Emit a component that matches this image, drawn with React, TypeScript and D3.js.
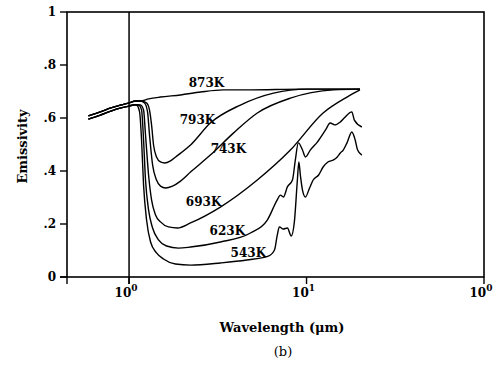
import * as d3 from "d3";

// shared start of the curves (two nearly coincident traces)
const HEAD_UPPER: [number, number][] = [
  [0.59, 0.608], [0.69, 0.623], [0.79, 0.638], [0.9, 0.649], [1.0, 0.657], [1.09, 0.664],
];
const HEAD_LOWER: [number, number][] = [
  [0.59, 0.596], [0.69, 0.611], [0.79, 0.626], [0.9, 0.638], [1.0, 0.645], [1.08, 0.65],
];

const C873: [number, number][] = [
  ...HEAD_UPPER,
  [1.16, 0.664], [1.29, 0.672], [1.5, 0.679], [1.95, 0.687], [2.53, 0.698],
  [3.39, 0.706], [4.83, 0.706], [9.23, 0.709], [20, 0.709],
];
const C793: [number, number][] = [
  ...HEAD_UPPER,
  [1.16, 0.664], [1.254, 0.657], [1.304, 0.63], [1.339, 0.574], [1.374, 0.498],
  [1.428, 0.453], [1.504, 0.434], [1.584, 0.43], [1.712, 0.438], [1.83, 0.453],
  [2.22, 0.498], [2.87, 0.581], [4.24, 0.649], [6.52, 0.694], [10.1, 0.709], [20, 0.709],
];
const C743: [number, number][] = [
  ...HEAD_UPPER,
  [1.16, 0.664], [1.223, 0.657], [1.271, 0.623], [1.304, 0.536], [1.357, 0.423],
  [1.428, 0.366], [1.504, 0.343], [1.605, 0.336], [1.757, 0.343], [1.95, 0.362],
  [2.22, 0.396], [2.87, 0.46], [3.87, 0.543], [5.28, 0.619], [8.11, 0.675],
  [14.2, 0.706], [20, 0.709],
];
const C693: [number, number][] = [
  ...HEAD_LOWER,
  [1.16, 0.649], [1.207, 0.63], [1.238, 0.536], [1.288, 0.385], [1.339, 0.291],
  [1.41, 0.234], [1.504, 0.208], [1.668, 0.189], [1.874, 0.185], [2.22, 0.204],
  [3.27, 0.264], [5.28, 0.366], [8.11, 0.479], [12.4, 0.619], [16.9, 0.679], [20, 0.706],
];
const C623: [number, number][] = [
  ...HEAD_LOWER,
  [1.131, 0.649], [1.176, 0.63], [1.207, 0.517], [1.238, 0.366], [1.288, 0.253],
  [1.357, 0.185], [1.465, 0.14], [1.626, 0.117], [1.899, 0.109], [2.22, 0.113],
  [3.27, 0.132], [4.83, 0.166], [6.01, 0.215], [6.84, 0.291], [7.12, 0.309],
  [7.41, 0.302], [7.8, 0.34], [8.33, 0.366], [8.65, 0.442], [8.99, 0.506],
  [9.49, 0.479], [9.86, 0.453], [10.5, 0.479], [11.5, 0.509], [12.8, 0.555],
  [13.6, 0.581], [14.4, 0.574], [15.5, 0.585], [16.3, 0.6], [18.0, 0.623],
  [18.6, 0.592], [20.5, 0.566],
];
const C543: [number, number][] = [
  ...HEAD_LOWER,
  [1.102, 0.649], [1.146, 0.623], [1.176, 0.517], [1.207, 0.347], [1.255, 0.215],
  [1.322, 0.132], [1.428, 0.091], [1.563, 0.068], [1.826, 0.049], [2.22, 0.045],
  [3.27, 0.053], [4.6, 0.064], [6.09, 0.079], [6.6, 0.102], [6.84, 0.158],
  [7.03, 0.189], [7.4, 0.181], [7.8, 0.185], [8.2, 0.155], [8.54, 0.208],
  [8.88, 0.366], [9.05, 0.434], [9.23, 0.385], [9.49, 0.328], [9.86, 0.302],
  [10.4, 0.336], [10.9, 0.366], [11.7, 0.385], [12.4, 0.415], [13.2, 0.434],
  [14.2, 0.442], [14.9, 0.453], [15.5, 0.468], [16.1, 0.479], [16.9, 0.506],
  [18.0, 0.547], [18.8, 0.517], [19.4, 0.479], [20.5, 0.46],
];

const SERIES = [C873, C793, C743, C693, C623, C543];

const CURVE_LABELS = ["873K", "793K", "743K", "693K", "623K", "543K"];
const LABEL_POS: [number, number][] = [
  [2.73, 0.732], [2.43, 0.592], [3.63, 0.483], [2.63, 0.283], [3.58, 0.174], [4.7, 0.091],
];

const Y_TICKS = [0, 0.2, 0.4, 0.6, 0.8, 1];
const Y_TICK_LABELS = ["0", ".2", ".4", ".6", ".8", "1"];
const X_TICKS = [1, 10, 100];
const X_TICK_EXP = ["0", "1", "0"];

const W = 502;
const H = 367;
const FONT = "'DejaVu Serif', serif";

export default function App() {
  const x = d3.scaleLog().domain([0.447, 100]).range([67, 484]);
  const y = d3.scaleLinear().domain([0, 1]).range([277, 12]);

  const line = d3
    .line<[number, number]>()
    .x((d) => x(d[0]))
    .y((d) => y(d[1]))
    .curve(d3.curveMonotoneX);

  const [x0, x1] = x.range();
  const [yb, yt] = y.range();

  return (
    <svg
      width={W}
      height={H}
      style={{ position: "absolute", left: 0, top: 0, background: "#fff" }}
    >
      {/* frame */}
      <rect x={x0} y={yt} width={x1 - x0} height={yb - yt} fill="none" stroke="#000" strokeWidth={1.6} />
      <line x1={60} x2={x0} y1={yb} y2={yb} stroke="#000" strokeWidth={1.6} />
      {/* 10^0 reference line */}
      <line x1={x(1)} x2={x(1)} y1={yt} y2={yb + 7} stroke="#000" strokeWidth={1.5} />

      {/* y ticks */}
      {Y_TICKS.map((t, i) => (
        <g key={"y" + t}>
          <line x1={60} x2={x0} y1={y(t)} y2={y(t)} stroke="#000" strokeWidth={1.4} />
          <text
            x={56}
            y={y(t)}
            textAnchor="end"
            dominantBaseline="central"
            fontFamily={FONT}
            fontWeight="bold"
            fontSize={12}
          >
            {Y_TICK_LABELS[i]}
          </text>
        </g>
      ))}

      {/* x ticks */}
      <line x1={x0} x2={x0} y1={yb} y2={yb + 7} stroke="#000" strokeWidth={1.4} />
      {X_TICKS.map((t, i) => (
        <g key={"x" + t}>
          <line x1={x(t)} x2={x(t)} y1={yb} y2={yb + 7} stroke="#000" strokeWidth={1.4} />
          <text
            x={x(t) - 3}
            y={yb + 20}
            textAnchor="middle"
            fontFamily={FONT}
            fontWeight="bold"
            fontSize={12}
          >
            10
            <tspan dy={-6} fontSize={9}>
              {X_TICK_EXP[i]}
            </tspan>
          </text>
        </g>
      ))}

      {/* curves */}
      {SERIES.map((s, i) => (
        <path
          key={CURVE_LABELS[i]}
          d={line(s) ?? ""}
          fill="none"
          stroke="#000"
          strokeWidth={1.4}
          strokeLinejoin="round"
        />
      ))}

      {/* curve labels */}
      {CURVE_LABELS.map((lab, i) => (
        <text
          key={"l" + lab}
          x={x(LABEL_POS[i][0])}
          y={y(LABEL_POS[i][1])}
          textAnchor="middle"
          dominantBaseline="central"
          fontFamily={FONT}
          fontWeight="bold"
          fontSize={12}
        >
          {lab}
        </text>
      ))}

      {/* axis titles */}
      <text
        transform={`translate(22,${(yt + yb) / 2 + 2}) rotate(-90)`}
        textAnchor="middle"
        dominantBaseline="central"
        fontFamily={FONT}
        fontWeight="bold"
        fontSize={13}
      >
        Emissivity
      </text>
      <text
        x={282}
        y={332}
        textAnchor="middle"
        fontFamily={FONT}
        fontWeight="bold"
        fontSize={13}
      >
        Wavelength (μm)
      </text>
      <text x={283} y={356} textAnchor="middle" fontFamily={FONT} fontSize={13}>
        (b)
      </text>
    </svg>
  );
}
